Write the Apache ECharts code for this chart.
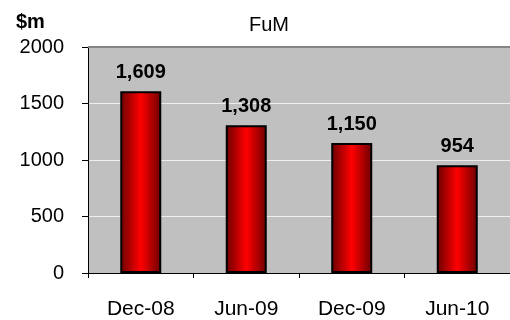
<!DOCTYPE html>
<html>
<head>
<meta charset="utf-8">
<script src="https://cdn.jsdelivr.net/npm/echarts@6/dist/echarts.min.js"></script>
<style>
  html, body { margin: 0; padding: 0; background: #ffffff; }
  #chart { width: 510px; height: 320px; }
</style>
</head>
<body>
<div id="chart"></div>
<script>
// Funds under management by period ($m)
var categories = ['Dec-08', 'Jun-09', 'Dec-09', 'Jun-10'];
var fumValues = [1609, 1308, 1150, 954];
var yTicks = [0, 500, 1000, 1500, 2000];

var FONT = 'Liberation Sans, Arial, sans-serif';
var chart = echarts.init(document.getElementById('chart'), null, { renderer: 'canvas' });

var barFill = new echarts.graphic.LinearGradient(0, 0, 1, 0, [
  { offset: 0, color: '#6a0000' },
  { offset: 0.5, color: '#ff0000' },
  { offset: 1, color: '#6a0000' }
]);

chart.setOption({
  animation: false,
  backgroundColor: '#ffffff',
  textStyle: { fontFamily: FONT },
  title: [
    {
      text: '$m', left: 11, top: 7,
      textStyle: { fontSize: 20, fontWeight: 'bold', color: '#000', fontFamily: FONT }
    },
    {
      text: 'FuM', left: 264, top: 10, textAlign: 'center',
      textStyle: { fontSize: 20, fontWeight: 'normal', color: '#000', fontFamily: FONT }
    }
  ],
  grid: {
    left: 88, top: 47, width: 426, height: 228,
    show: true, backgroundColor: '#c0c0c0', borderWidth: 0
  },
  xAxis: {
    type: 'category',
    data: categories,
    axisLine: { lineStyle: { color: '#000', width: 1 } },
    axisTick: { show: true, length: 5, alignWithLabel: false, lineStyle: { color: '#000' } },
    axisLabel: { fontSize: 21, color: '#000', margin: 26, fontFamily: FONT },
    splitLine: { show: false }
  },
  yAxis: {
    type: 'value',
    min: yTicks[0], max: yTicks[yTicks.length - 1], interval: 500,
    axisLine: { show: true, lineStyle: { color: '#000', width: 1 } },
    axisTick: { show: true, length: 6, lineStyle: { color: '#000' } },
    axisLabel: {
      fontSize: 20, color: '#000', margin: 24, fontFamily: FONT,
      formatter: function (v) { return String(v); }
    },
    splitLine: { show: true, lineStyle: { color: ['#c0c0c0', '#eeeeee', '#eeeeee', '#eeeeee', '#c0c0c0'], width: 1 } }
  },
  series: [{
    type: 'bar',
    data: fumValues,
    barWidth: 41,
    itemStyle: { color: barFill, borderColor: '#000', borderWidth: 2 },
    label: {
      show: true, position: 'top', distance: 9,
      fontSize: 20, fontWeight: 'bold', color: '#000', fontFamily: FONT,
      formatter: function (p) { return p.value.toLocaleString('en-US'); }
    },
    markLine: {
      silent: true, symbol: 'none', label: { show: false },
      lineStyle: { color: '#858585', width: 2, type: 'solid' },
      data: [{ yAxis: yTicks[yTicks.length - 1] }]
    }
  }]
});
</script>
</body>
</html>
